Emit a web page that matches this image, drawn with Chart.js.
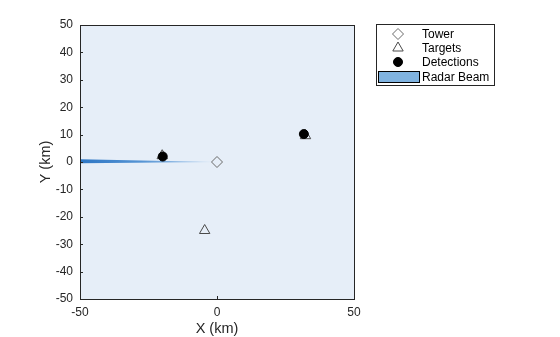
<!DOCTYPE html>
<html>
<head>
<meta charset="utf-8">
<script src="https://cdn.jsdelivr.net/npm/chart.js@4/dist/chart.umd.min.js"></script>
<style>
  html, body { margin: 0; padding: 0; background: #fff; }
  #wrap { width: 560px; height: 337px; }
</style>
</head>
<body>
<div id="wrap"><canvas id="radar"></canvas></div>
<script>
// scene positions in km
const towerX = [0];
const towerY = [0];
const targetX = [-4.5, -20, 32.3];
const targetY = [-25, 2.3, 9.6];
const detectX = [-19.8, 31.7];
const detectY = [2.0, 10.2];
// beam wedge outline (apex at the tower)
const beamX = [0, -50, -50, 0];
const beamY = [0, 1.0, -0.45, 0];

const xTicks = [-50, 0, 50];
const yTicks = [-50, -40, -30, -20, -10, 0, 10, 20, 30, 40, 50];

const FONT = "'Liberation Sans', Arial, sans-serif";
const INK = '#262626';

const pts = (xs, ys) => xs.map((x, i) => ({ x, y: ys[i] }));

function beamFill(ctx) {
    const chart = ctx.chart;
    const area = chart.chartArea;
    if (!area) return 'rgba(70,135,205,0.9)';
    const x0 = chart.scales.x.getPixelForValue(-50);
    const x1 = chart.scales.x.getPixelForValue(0);
    const g = chart.ctx.createLinearGradient(x0, 0, x1, 0);
    g.addColorStop(0, 'rgba(45,118,196,1)');
    g.addColorStop(0.45, 'rgba(70,138,208,0.9)');
    g.addColorStop(0.85, 'rgba(120,172,225,0.65)');
    g.addColorStop(1, 'rgba(180,210,240,0.35)');
    return g;
}

// axes background, box and inward tick marks
const axesBox = {
    id: 'axesBox',
    beforeDatasetsDraw(chart) {
        const { ctx, chartArea: a } = chart;
        ctx.save();
        ctx.fillStyle = '#e6eef8';
        ctx.fillRect(a.left, a.top, a.right - a.left, a.bottom - a.top);
        ctx.restore();
    },
    afterDatasetsDraw(chart) {
        const { ctx, chartArea: a, scales } = chart;
        ctx.save();
        ctx.strokeStyle = INK;
        ctx.lineWidth = 1;
        ctx.beginPath();
        xTicks.forEach(v => {
            const px = Math.round(scales.x.getPixelForValue(v)) + 0.5;
            ctx.moveTo(px, a.bottom);
            ctx.lineTo(px, a.bottom - 3);
        });
        yTicks.forEach(v => {
            const py = Math.round(scales.y.getPixelForValue(v)) + 0.5;
            ctx.moveTo(a.left, py);
            ctx.lineTo(a.left + 3, py);
        });
        ctx.stroke();
        ctx.strokeRect(Math.round(a.left) + 0.5, Math.round(a.top) + 0.5,
            Math.round(a.right - a.left), Math.round(a.bottom - a.top));
        ctx.restore();
    }
};

// boxed legend to the right of the axes
const sideLegend = {
    id: 'sideLegend',
    afterDraw(chart) {
        const ctx = chart.ctx;
        const box = { x: 376.5, y: 24.5, w: 118, h: 61 };
        const rows = [34, 48, 62, 77];
        ctx.save();
        ctx.fillStyle = '#fff';
        ctx.strokeStyle = INK;
        ctx.lineWidth = 1;
        ctx.fillRect(box.x, box.y, box.w, box.h);
        ctx.strokeRect(box.x, box.y, box.w, box.h);
        ctx.font = '12px ' + FONT;
        ctx.textBaseline = 'middle';
        chart.data.datasets.forEach((ds, i) => {
            const y = rows[i];
            if (ds.legendPatch) {
                ctx.fillStyle = '#80b3e0';
                ctx.fillRect(378.5, y - 5.5, 41, 11);
                ctx.strokeStyle = '#000';
                ctx.strokeRect(378.5, y - 5.5, 41, 11);
            } else {
                ctx.fillStyle = ds.backgroundColor;
                ctx.strokeStyle = ds.borderColor;
                ctx.lineWidth = ds.borderWidth;
                Chart.helpers.drawPoint(ctx, {
                    pointStyle: ds.pointStyle,
                    radius: ds.pointRadius,
                    rotation: 0,
                    borderWidth: ds.borderWidth
                }, 398, y);
            }
            ctx.fillStyle = '#000';
            ctx.fillText(ds.label, 422, y + 0.5);
        });
        ctx.restore();
    }
};

new Chart(document.getElementById('radar'), {
    type: 'scatter',
    data: {
        datasets: [
            {
                label: 'Tower',
                data: pts(towerX, towerY),
                pointStyle: 'rectRot',
                pointRadius: 5.5,
                borderColor: '#6a6a6a',
                backgroundColor: 'rgba(0,0,0,0)',
                borderWidth: 1,
                order: 1
            },
            {
                label: 'Targets',
                data: pts(targetX, targetY),
                pointStyle: 'triangle',
                pointRadius: 6,
                borderColor: '#4a4a4a',
                backgroundColor: 'rgba(0,0,0,0)',
                borderWidth: 1,
                order: 3
            },
            {
                label: 'Detections',
                data: pts(detectX, detectY),
                pointStyle: 'circle',
                pointRadius: 4.5,
                borderColor: '#000',
                backgroundColor: '#000',
                borderWidth: 1,
                order: 2
            },
            {
                label: 'Radar Beam',
                type: 'line',
                data: pts(beamX, beamY),
                showLine: true,
                fill: 'shape',
                borderWidth: 0,
                pointRadius: 0,
                backgroundColor: beamFill,
                legendPatch: true,
                order: 4
            }
        ]
    },
    options: {
        responsive: true,
        maintainAspectRatio: false,
        animation: false,
        events: [],
        layout: { padding: { left: 0, right: 206, top: 25, bottom: 0 } },
        plugins: {
            legend: { display: false },
            tooltip: { enabled: false }
        },
        scales: {
            x: {
                type: 'linear',
                min: -50,
                max: 50,
                afterFit: s => { s.height = 38; },
                afterBuildTicks: s => { s.ticks = xTicks.map(v => ({ value: v })); },
                grid: { display: false, drawTicks: false },
                border: { display: false },
                ticks: { color: INK, padding: 6, font: { family: FONT, size: 12 } },
                title: {
                    display: true,
                    text: 'X (km)',
                    color: INK,
                    padding: { top: 0, bottom: -1 },
                    font: { family: FONT, size: 14.5 }
                }
            },
            y: {
                type: 'linear',
                min: -50,
                max: 50,
                afterFit: s => { s.width = 80; },
                afterBuildTicks: s => { s.ticks = yTicks.map(v => ({ value: v })); },
                grid: { display: false, drawTicks: false },
                border: { display: false },
                ticks: { color: INK, padding: 7, font: { family: FONT, size: 12 } },
                title: {
                    display: true,
                    text: 'Y (km)',
                    color: INK,
                    padding: { top: 37, bottom: 0 },
                    font: { family: FONT, size: 14.5 }
                }
            }
        }
    },
    plugins: [axesBox, sideLegend]
});
</script>
</body>
</html>
